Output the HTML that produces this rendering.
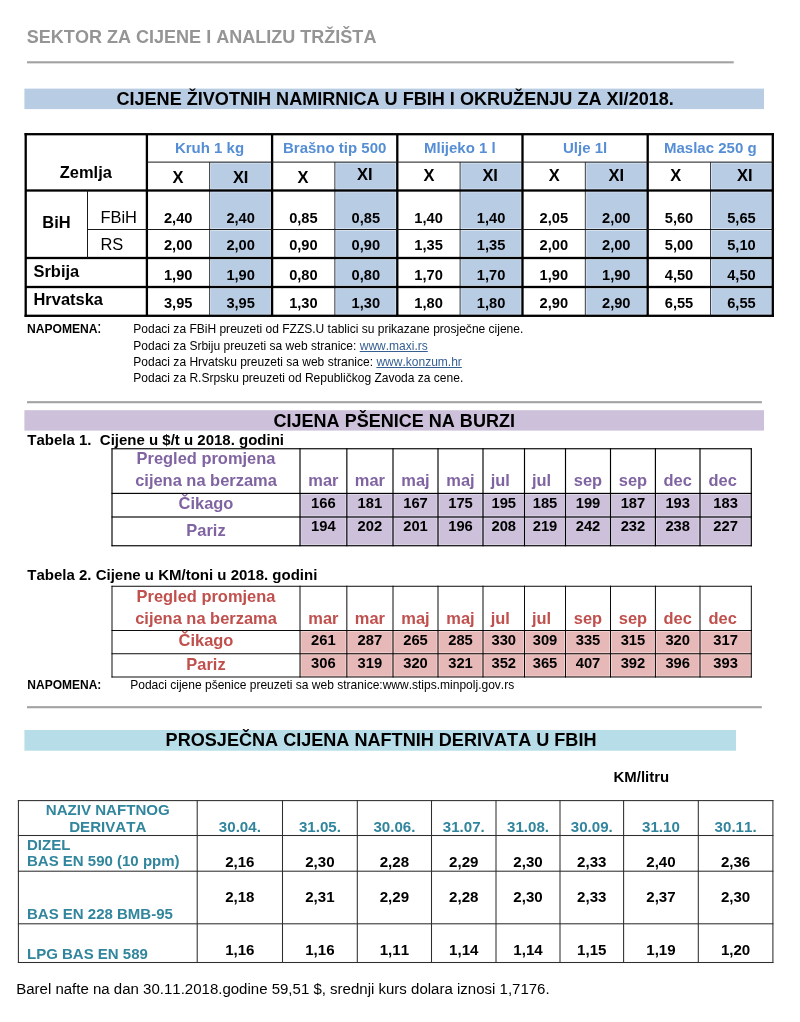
<!DOCTYPE html>
<html lang="bs">
<head>
<meta charset="utf-8">
<title>Sektor za cijene i analizu tržišta</title>
<style>
html,body{margin:0;padding:0;background:#fff;}
body{width:800px;height:1022px;position:relative;overflow:hidden;font-family:"Liberation Sans",sans-serif;font-kerning:none;}
#pg div{position:absolute;}
#pg .t{white-space:nowrap;}
.lk{color:#365f91;text-decoration:underline;}
</style>
</head>
<body>
<div id="pg">
<svg width="800" height="1022" viewBox="0 0 800 1022" style="position:absolute;left:0;top:0">
<rect x="27" y="61.25" width="706.7" height="2.1" fill="#a2a2a2"/>
<rect x="24.4" y="88.6" width="739.6" height="20.5" fill="#b8cce4"/>
<rect x="209.65" y="162.1" width="62.45" height="153.7" fill="#b8cce4"/>
<rect x="334.85" y="162.1" width="62.45" height="153.7" fill="#b8cce4"/>
<rect x="460.05" y="162.1" width="62.45" height="153.7" fill="#b8cce4"/>
<rect x="585.25" y="162.1" width="62.45" height="153.7" fill="#b8cce4"/>
<rect x="710.45" y="162.1" width="62.45" height="153.7" fill="#b8cce4"/>
<rect x="210.55" y="163.1" width="60.05" height="25.9" fill="none" stroke="#dbe6f3" stroke-width="0.8"/>
<rect x="210.55" y="192" width="60.05" height="36.5" fill="none" stroke="#dbe6f3" stroke-width="0.8"/>
<rect x="210.55" y="230.5" width="60.05" height="26" fill="none" stroke="#dbe6f3" stroke-width="0.8"/>
<rect x="210.55" y="259.5" width="60.05" height="26" fill="none" stroke="#dbe6f3" stroke-width="0.8"/>
<rect x="210.55" y="288.5" width="60.05" height="25.8" fill="none" stroke="#dbe6f3" stroke-width="0.8"/>
<rect x="335.75" y="163.1" width="60.05" height="25.9" fill="none" stroke="#dbe6f3" stroke-width="0.8"/>
<rect x="335.75" y="192" width="60.05" height="36.5" fill="none" stroke="#dbe6f3" stroke-width="0.8"/>
<rect x="335.75" y="230.5" width="60.05" height="26" fill="none" stroke="#dbe6f3" stroke-width="0.8"/>
<rect x="335.75" y="259.5" width="60.05" height="26" fill="none" stroke="#dbe6f3" stroke-width="0.8"/>
<rect x="335.75" y="288.5" width="60.05" height="25.8" fill="none" stroke="#dbe6f3" stroke-width="0.8"/>
<rect x="460.95" y="163.1" width="60.05" height="25.9" fill="none" stroke="#dbe6f3" stroke-width="0.8"/>
<rect x="460.95" y="192" width="60.05" height="36.5" fill="none" stroke="#dbe6f3" stroke-width="0.8"/>
<rect x="460.95" y="230.5" width="60.05" height="26" fill="none" stroke="#dbe6f3" stroke-width="0.8"/>
<rect x="460.95" y="259.5" width="60.05" height="26" fill="none" stroke="#dbe6f3" stroke-width="0.8"/>
<rect x="460.95" y="288.5" width="60.05" height="25.8" fill="none" stroke="#dbe6f3" stroke-width="0.8"/>
<rect x="586.15" y="163.1" width="60.05" height="25.9" fill="none" stroke="#dbe6f3" stroke-width="0.8"/>
<rect x="586.15" y="192" width="60.05" height="36.5" fill="none" stroke="#dbe6f3" stroke-width="0.8"/>
<rect x="586.15" y="230.5" width="60.05" height="26" fill="none" stroke="#dbe6f3" stroke-width="0.8"/>
<rect x="586.15" y="259.5" width="60.05" height="26" fill="none" stroke="#dbe6f3" stroke-width="0.8"/>
<rect x="586.15" y="288.5" width="60.05" height="25.8" fill="none" stroke="#dbe6f3" stroke-width="0.8"/>
<rect x="711.35" y="163.1" width="60.05" height="25.9" fill="none" stroke="#dbe6f3" stroke-width="0.8"/>
<rect x="711.35" y="192" width="60.05" height="36.5" fill="none" stroke="#dbe6f3" stroke-width="0.8"/>
<rect x="711.35" y="230.5" width="60.05" height="26" fill="none" stroke="#dbe6f3" stroke-width="0.8"/>
<rect x="711.35" y="259.5" width="60.05" height="26" fill="none" stroke="#dbe6f3" stroke-width="0.8"/>
<rect x="711.35" y="288.5" width="60.05" height="25.8" fill="none" stroke="#dbe6f3" stroke-width="0.8"/>
<rect x="24.55" y="133.05" width="749.4" height="2.3" fill="#000"/>
<rect x="24.55" y="314.65" width="749.4" height="2.3" fill="#000"/>
<rect x="24.55" y="133.05" width="2.3" height="183.9" fill="#000"/>
<rect x="771.65" y="133.05" width="2.3" height="183.9" fill="#000"/>
<rect x="145.75" y="134.2" width="2.3" height="181.6" fill="#000"/>
<rect x="209.25" y="162.1" width="0.8" height="153.7" fill="#1a1a1a"/>
<rect x="270.95" y="134.2" width="2.3" height="181.6" fill="#000"/>
<rect x="334.45" y="162.1" width="0.8" height="153.7" fill="#1a1a1a"/>
<rect x="396.15" y="134.2" width="2.3" height="181.6" fill="#000"/>
<rect x="459.65" y="162.1" width="0.8" height="153.7" fill="#1a1a1a"/>
<rect x="521.35" y="134.2" width="2.3" height="181.6" fill="#000"/>
<rect x="584.85" y="162.1" width="0.8" height="153.7" fill="#1a1a1a"/>
<rect x="646.55" y="134.2" width="2.3" height="181.6" fill="#000"/>
<rect x="710.05" y="162.1" width="0.8" height="153.7" fill="#1a1a1a"/>
<rect x="146.9" y="161.6" width="625.9" height="1" fill="#1a1a1a"/>
<rect x="25.7" y="189.35" width="747.1" height="2.3" fill="#000"/>
<rect x="87.5" y="229" width="685.3" height="1" fill="#1a1a1a"/>
<rect x="25.7" y="256.85" width="747.1" height="2.3" fill="#000"/>
<rect x="25.7" y="285.85" width="747.1" height="2.3" fill="#000"/>
<rect x="87" y="190.5" width="1" height="67.5" fill="#1a1a1a"/>
<rect x="27" y="401.15" width="734.9" height="2.1" fill="#a2a2a2"/>
<rect x="24.4" y="410.2" width="739.6" height="20.4" fill="#ccc0da"/>
<rect x="300" y="493.4" width="451.3" height="52.35" fill="#ccc0da"/>
<rect x="301.05" y="494.45" width="44.75" height="21.5" fill="none" stroke="#e0d9ea" stroke-width="0.8"/>
<rect x="301.05" y="518.05" width="44.75" height="26.65" fill="none" stroke="#e0d9ea" stroke-width="0.8"/>
<rect x="347.9" y="494.45" width="44.05" height="21.5" fill="none" stroke="#e0d9ea" stroke-width="0.8"/>
<rect x="347.9" y="518.05" width="44.05" height="26.65" fill="none" stroke="#e0d9ea" stroke-width="0.8"/>
<rect x="394.05" y="494.45" width="42.9" height="21.5" fill="none" stroke="#e0d9ea" stroke-width="0.8"/>
<rect x="394.05" y="518.05" width="42.9" height="26.65" fill="none" stroke="#e0d9ea" stroke-width="0.8"/>
<rect x="439.05" y="494.45" width="42.9" height="21.5" fill="none" stroke="#e0d9ea" stroke-width="0.8"/>
<rect x="439.05" y="518.05" width="42.9" height="26.65" fill="none" stroke="#e0d9ea" stroke-width="0.8"/>
<rect x="484.05" y="494.45" width="39.4" height="21.5" fill="none" stroke="#e0d9ea" stroke-width="0.8"/>
<rect x="484.05" y="518.05" width="39.4" height="26.65" fill="none" stroke="#e0d9ea" stroke-width="0.8"/>
<rect x="525.55" y="494.45" width="38.9" height="21.5" fill="none" stroke="#e0d9ea" stroke-width="0.8"/>
<rect x="525.55" y="518.05" width="38.9" height="26.65" fill="none" stroke="#e0d9ea" stroke-width="0.8"/>
<rect x="566.55" y="494.45" width="42.9" height="21.5" fill="none" stroke="#e0d9ea" stroke-width="0.8"/>
<rect x="566.55" y="518.05" width="42.9" height="26.65" fill="none" stroke="#e0d9ea" stroke-width="0.8"/>
<rect x="611.55" y="494.45" width="42.8" height="21.5" fill="none" stroke="#e0d9ea" stroke-width="0.8"/>
<rect x="611.55" y="518.05" width="42.8" height="26.65" fill="none" stroke="#e0d9ea" stroke-width="0.8"/>
<rect x="656.45" y="494.45" width="42.5" height="21.5" fill="none" stroke="#e0d9ea" stroke-width="0.8"/>
<rect x="656.45" y="518.05" width="42.5" height="26.65" fill="none" stroke="#e0d9ea" stroke-width="0.8"/>
<rect x="701.05" y="494.45" width="49.2" height="21.5" fill="none" stroke="#e0d9ea" stroke-width="0.8"/>
<rect x="701.05" y="518.05" width="49.2" height="26.65" fill="none" stroke="#e0d9ea" stroke-width="0.8"/>
<rect x="111.425" y="448.25" width="1.15" height="98" fill="#000"/>
<rect x="299.425" y="448.25" width="1.15" height="98" fill="#000"/>
<rect x="346.275" y="448.25" width="1.15" height="98" fill="#000"/>
<rect x="392.425" y="448.25" width="1.15" height="98" fill="#000"/>
<rect x="437.425" y="448.25" width="1.15" height="98" fill="#000"/>
<rect x="482.425" y="448.25" width="1.15" height="98" fill="#000"/>
<rect x="523.925" y="448.25" width="1.15" height="98" fill="#000"/>
<rect x="564.925" y="448.25" width="1.15" height="98" fill="#000"/>
<rect x="609.925" y="448.25" width="1.15" height="98" fill="#000"/>
<rect x="654.825" y="448.25" width="1.15" height="98" fill="#000"/>
<rect x="699.425" y="448.25" width="1.15" height="98" fill="#000"/>
<rect x="750.725" y="448.25" width="1.15" height="98" fill="#000"/>
<rect x="111.5" y="448.175" width="640.3" height="1.15" fill="#000"/>
<rect x="111.5" y="492.825" width="640.3" height="1.15" fill="#000"/>
<rect x="111.5" y="516.425" width="640.3" height="1.15" fill="#000"/>
<rect x="111.5" y="545.175" width="640.3" height="1.15" fill="#000"/>
<rect x="300" y="630.5" width="451.3" height="46.5" fill="#e6b8b7"/>
<rect x="301.05" y="631.55" width="44.75" height="21.15" fill="none" stroke="#f1d6d5" stroke-width="0.8"/>
<rect x="301.05" y="654.8" width="44.75" height="21.15" fill="none" stroke="#f1d6d5" stroke-width="0.8"/>
<rect x="347.9" y="631.55" width="44.05" height="21.15" fill="none" stroke="#f1d6d5" stroke-width="0.8"/>
<rect x="347.9" y="654.8" width="44.05" height="21.15" fill="none" stroke="#f1d6d5" stroke-width="0.8"/>
<rect x="394.05" y="631.55" width="42.9" height="21.15" fill="none" stroke="#f1d6d5" stroke-width="0.8"/>
<rect x="394.05" y="654.8" width="42.9" height="21.15" fill="none" stroke="#f1d6d5" stroke-width="0.8"/>
<rect x="439.05" y="631.55" width="42.9" height="21.15" fill="none" stroke="#f1d6d5" stroke-width="0.8"/>
<rect x="439.05" y="654.8" width="42.9" height="21.15" fill="none" stroke="#f1d6d5" stroke-width="0.8"/>
<rect x="484.05" y="631.55" width="39.4" height="21.15" fill="none" stroke="#f1d6d5" stroke-width="0.8"/>
<rect x="484.05" y="654.8" width="39.4" height="21.15" fill="none" stroke="#f1d6d5" stroke-width="0.8"/>
<rect x="525.55" y="631.55" width="38.9" height="21.15" fill="none" stroke="#f1d6d5" stroke-width="0.8"/>
<rect x="525.55" y="654.8" width="38.9" height="21.15" fill="none" stroke="#f1d6d5" stroke-width="0.8"/>
<rect x="566.55" y="631.55" width="42.9" height="21.15" fill="none" stroke="#f1d6d5" stroke-width="0.8"/>
<rect x="566.55" y="654.8" width="42.9" height="21.15" fill="none" stroke="#f1d6d5" stroke-width="0.8"/>
<rect x="611.55" y="631.55" width="42.8" height="21.15" fill="none" stroke="#f1d6d5" stroke-width="0.8"/>
<rect x="611.55" y="654.8" width="42.8" height="21.15" fill="none" stroke="#f1d6d5" stroke-width="0.8"/>
<rect x="656.45" y="631.55" width="42.5" height="21.15" fill="none" stroke="#f1d6d5" stroke-width="0.8"/>
<rect x="656.45" y="654.8" width="42.5" height="21.15" fill="none" stroke="#f1d6d5" stroke-width="0.8"/>
<rect x="701.05" y="631.55" width="49.2" height="21.15" fill="none" stroke="#f1d6d5" stroke-width="0.8"/>
<rect x="701.05" y="654.8" width="49.2" height="21.15" fill="none" stroke="#f1d6d5" stroke-width="0.8"/>
<rect x="111.525" y="585.75" width="0.95" height="91.75" fill="#000"/>
<rect x="299.525" y="585.75" width="0.95" height="91.75" fill="#000"/>
<rect x="346.375" y="585.75" width="0.95" height="91.75" fill="#000"/>
<rect x="392.525" y="585.75" width="0.95" height="91.75" fill="#000"/>
<rect x="437.525" y="585.75" width="0.95" height="91.75" fill="#000"/>
<rect x="482.525" y="585.75" width="0.95" height="91.75" fill="#000"/>
<rect x="524.025" y="585.75" width="0.95" height="91.75" fill="#000"/>
<rect x="565.025" y="585.75" width="0.95" height="91.75" fill="#000"/>
<rect x="610.025" y="585.75" width="0.95" height="91.75" fill="#000"/>
<rect x="654.925" y="585.75" width="0.95" height="91.75" fill="#000"/>
<rect x="699.525" y="585.75" width="0.95" height="91.75" fill="#000"/>
<rect x="750.825" y="585.75" width="0.95" height="91.75" fill="#000"/>
<rect x="111.5" y="585.775" width="640.3" height="0.95" fill="#000"/>
<rect x="111.5" y="630.025" width="640.3" height="0.95" fill="#000"/>
<rect x="111.5" y="653.275" width="640.3" height="0.95" fill="#000"/>
<rect x="111.5" y="676.525" width="640.3" height="0.95" fill="#000"/>
<rect x="27" y="706.15" width="734.8" height="2.1" fill="#a2a2a2"/>
<rect x="24.4" y="730" width="711.6" height="20.7" fill="#b7dee8"/>
<rect x="17.875" y="800.1" width="1.05" height="162.9" fill="#2e2e2e"/>
<rect x="196.675" y="800.1" width="1.05" height="162.9" fill="#2e2e2e"/>
<rect x="281.975" y="800.1" width="1.05" height="162.9" fill="#2e2e2e"/>
<rect x="356.775" y="800.1" width="1.05" height="162.9" fill="#2e2e2e"/>
<rect x="430.975" y="800.1" width="1.05" height="162.9" fill="#2e2e2e"/>
<rect x="495.475" y="800.1" width="1.05" height="162.9" fill="#2e2e2e"/>
<rect x="559.475" y="800.1" width="1.05" height="162.9" fill="#2e2e2e"/>
<rect x="623.075" y="800.1" width="1.05" height="162.9" fill="#2e2e2e"/>
<rect x="697.775" y="800.1" width="1.05" height="162.9" fill="#2e2e2e"/>
<rect x="772.375" y="800.1" width="1.05" height="162.9" fill="#2e2e2e"/>
<rect x="17.9" y="800.075" width="755.5" height="1.05" fill="#2e2e2e"/>
<rect x="17.9" y="834.975" width="755.5" height="1.05" fill="#2e2e2e"/>
<rect x="17.9" y="870.675" width="755.5" height="1.05" fill="#2e2e2e"/>
<rect x="17.9" y="923.275" width="755.5" height="1.05" fill="#2e2e2e"/>
<rect x="17.9" y="961.975" width="755.5" height="1.05" fill="#2e2e2e"/>
</svg>
<div class="t" style="top:28px;font-size:18.05px;line-height:18.05px;color:#959595;font-weight:bold;left:26.8px;">SEKTOR ZA CIJENE I ANALIZU TRŽIŠTA</div>
<div class="t" style="top:90px;font-size:18.08px;line-height:18.08px;color:#000;font-weight:bold;left:116.4px;">CIJENE ŽIVOTNIH NAMIRNICA U FBIH I OKRUŽENJU ZA XI/2018.</div>
<div class="t" style="top:140px;font-size:15px;line-height:15px;color:#558ed5;font-weight:bold;left:147.5px;width:124px;text-align:center;">Kruh 1 kg</div>
<div class="t" style="top:169px;font-size:16.45px;line-height:16.45px;color:#000;font-weight:bold;left:147.9px;width:60px;text-align:center;">X</div>
<div class="t" style="top:169px;font-size:16.45px;line-height:16.45px;color:#000;font-weight:bold;left:210.65px;width:60px;text-align:center;">XI</div>
<div class="t" style="top:140px;font-size:15px;line-height:15px;color:#558ed5;font-weight:bold;left:272.7px;width:124px;text-align:center;">Brašno tip 500</div>
<div class="t" style="top:169px;font-size:16.45px;line-height:16.45px;color:#000;font-weight:bold;left:273.1px;width:60px;text-align:center;">X</div>
<div class="t" style="top:166px;font-size:16.45px;line-height:16.45px;color:#000;font-weight:bold;left:334.75px;width:60px;text-align:center;">XI</div>
<div class="t" style="top:140px;font-size:15px;line-height:15px;color:#558ed5;font-weight:bold;left:397.9px;width:124px;text-align:center;">Mlijeko 1 l</div>
<div class="t" style="top:167px;font-size:16.45px;line-height:16.45px;color:#000;font-weight:bold;left:399.05px;width:60px;text-align:center;">X</div>
<div class="t" style="top:167px;font-size:16.45px;line-height:16.45px;color:#000;font-weight:bold;left:460.15px;width:60px;text-align:center;">XI</div>
<div class="t" style="top:140px;font-size:15px;line-height:15px;color:#558ed5;font-weight:bold;left:523.1px;width:124px;text-align:center;">Ulje 1l</div>
<div class="t" style="top:167px;font-size:16.45px;line-height:16.45px;color:#000;font-weight:bold;left:524.25px;width:60px;text-align:center;">X</div>
<div class="t" style="top:167px;font-size:16.45px;line-height:16.45px;color:#000;font-weight:bold;left:586.25px;width:60px;text-align:center;">XI</div>
<div class="t" style="top:140px;font-size:15px;line-height:15px;color:#558ed5;font-weight:bold;left:648.3px;width:124px;text-align:center;">Maslac 250 g</div>
<div class="t" style="top:167px;font-size:16.45px;line-height:16.45px;color:#000;font-weight:bold;left:645.7px;width:60px;text-align:center;">X</div>
<div class="t" style="top:167px;font-size:16.45px;line-height:16.45px;color:#000;font-weight:bold;left:714.7px;width:60px;text-align:center;">XI</div>
<div class="t" style="top:164px;font-size:16.45px;line-height:16.45px;color:#000;font-weight:bold;left:59.8px;">Zemlja</div>
<div class="t" style="top:214px;font-size:16.45px;line-height:16.45px;color:#000;font-weight:bold;left:42.3px;">BiH</div>
<div class="t" style="top:209px;font-size:16.45px;line-height:16.45px;color:#000;left:100.4px;">FBiH</div>
<div class="t" style="top:236px;font-size:16.45px;line-height:16.45px;color:#000;left:100.4px;">RS</div>
<div class="t" style="top:263px;font-size:16.45px;line-height:16.45px;color:#000;font-weight:bold;left:33.5px;">Srbija</div>
<div class="t" style="top:291px;font-size:16.45px;line-height:16.45px;color:#000;font-weight:bold;left:33.5px;">Hrvatska</div>
<div class="t" style="top:211px;font-size:14.65px;line-height:14.65px;color:#000;font-weight:bold;left:148.2px;width:60px;text-align:center;">2,40</div>
<div class="t" style="top:211px;font-size:14.65px;line-height:14.65px;color:#000;font-weight:bold;left:210.65px;width:60px;text-align:center;">2,40</div>
<div class="t" style="top:211px;font-size:14.65px;line-height:14.65px;color:#000;font-weight:bold;left:273.4px;width:60px;text-align:center;">0,85</div>
<div class="t" style="top:211px;font-size:14.65px;line-height:14.65px;color:#000;font-weight:bold;left:335.85px;width:60px;text-align:center;">0,85</div>
<div class="t" style="top:211px;font-size:14.65px;line-height:14.65px;color:#000;font-weight:bold;left:398.6px;width:60px;text-align:center;">1,40</div>
<div class="t" style="top:211px;font-size:14.65px;line-height:14.65px;color:#000;font-weight:bold;left:461.05px;width:60px;text-align:center;">1,40</div>
<div class="t" style="top:211px;font-size:14.65px;line-height:14.65px;color:#000;font-weight:bold;left:523.8px;width:60px;text-align:center;">2,05</div>
<div class="t" style="top:211px;font-size:14.65px;line-height:14.65px;color:#000;font-weight:bold;left:586.25px;width:60px;text-align:center;">2,00</div>
<div class="t" style="top:211px;font-size:14.65px;line-height:14.65px;color:#000;font-weight:bold;left:649px;width:60px;text-align:center;">5,60</div>
<div class="t" style="top:211px;font-size:14.65px;line-height:14.65px;color:#000;font-weight:bold;left:711.45px;width:60px;text-align:center;">5,65</div>
<div class="t" style="top:238px;font-size:14.65px;line-height:14.65px;color:#000;font-weight:bold;left:148.2px;width:60px;text-align:center;">2,00</div>
<div class="t" style="top:238px;font-size:14.65px;line-height:14.65px;color:#000;font-weight:bold;left:210.65px;width:60px;text-align:center;">2,00</div>
<div class="t" style="top:238px;font-size:14.65px;line-height:14.65px;color:#000;font-weight:bold;left:273.4px;width:60px;text-align:center;">0,90</div>
<div class="t" style="top:238px;font-size:14.65px;line-height:14.65px;color:#000;font-weight:bold;left:335.85px;width:60px;text-align:center;">0,90</div>
<div class="t" style="top:238px;font-size:14.65px;line-height:14.65px;color:#000;font-weight:bold;left:398.6px;width:60px;text-align:center;">1,35</div>
<div class="t" style="top:238px;font-size:14.65px;line-height:14.65px;color:#000;font-weight:bold;left:461.05px;width:60px;text-align:center;">1,35</div>
<div class="t" style="top:238px;font-size:14.65px;line-height:14.65px;color:#000;font-weight:bold;left:523.8px;width:60px;text-align:center;">2,00</div>
<div class="t" style="top:238px;font-size:14.65px;line-height:14.65px;color:#000;font-weight:bold;left:586.25px;width:60px;text-align:center;">2,00</div>
<div class="t" style="top:238px;font-size:14.65px;line-height:14.65px;color:#000;font-weight:bold;left:649px;width:60px;text-align:center;">5,00</div>
<div class="t" style="top:238px;font-size:14.65px;line-height:14.65px;color:#000;font-weight:bold;left:711.45px;width:60px;text-align:center;">5,10</div>
<div class="t" style="top:268px;font-size:14.65px;line-height:14.65px;color:#000;font-weight:bold;left:148.2px;width:60px;text-align:center;">1,90</div>
<div class="t" style="top:268px;font-size:14.65px;line-height:14.65px;color:#000;font-weight:bold;left:210.65px;width:60px;text-align:center;">1,90</div>
<div class="t" style="top:268px;font-size:14.65px;line-height:14.65px;color:#000;font-weight:bold;left:273.4px;width:60px;text-align:center;">0,80</div>
<div class="t" style="top:268px;font-size:14.65px;line-height:14.65px;color:#000;font-weight:bold;left:335.85px;width:60px;text-align:center;">0,80</div>
<div class="t" style="top:268px;font-size:14.65px;line-height:14.65px;color:#000;font-weight:bold;left:398.6px;width:60px;text-align:center;">1,70</div>
<div class="t" style="top:268px;font-size:14.65px;line-height:14.65px;color:#000;font-weight:bold;left:461.05px;width:60px;text-align:center;">1,70</div>
<div class="t" style="top:268px;font-size:14.65px;line-height:14.65px;color:#000;font-weight:bold;left:523.8px;width:60px;text-align:center;">1,90</div>
<div class="t" style="top:268px;font-size:14.65px;line-height:14.65px;color:#000;font-weight:bold;left:586.25px;width:60px;text-align:center;">1,90</div>
<div class="t" style="top:268px;font-size:14.65px;line-height:14.65px;color:#000;font-weight:bold;left:649px;width:60px;text-align:center;">4,50</div>
<div class="t" style="top:268px;font-size:14.65px;line-height:14.65px;color:#000;font-weight:bold;left:711.45px;width:60px;text-align:center;">4,50</div>
<div class="t" style="top:296px;font-size:14.65px;line-height:14.65px;color:#000;font-weight:bold;left:148.2px;width:60px;text-align:center;">3,95</div>
<div class="t" style="top:296px;font-size:14.65px;line-height:14.65px;color:#000;font-weight:bold;left:210.65px;width:60px;text-align:center;">3,95</div>
<div class="t" style="top:296px;font-size:14.65px;line-height:14.65px;color:#000;font-weight:bold;left:273.4px;width:60px;text-align:center;">1,30</div>
<div class="t" style="top:296px;font-size:14.65px;line-height:14.65px;color:#000;font-weight:bold;left:335.85px;width:60px;text-align:center;">1,30</div>
<div class="t" style="top:296px;font-size:14.65px;line-height:14.65px;color:#000;font-weight:bold;left:398.6px;width:60px;text-align:center;">1,80</div>
<div class="t" style="top:296px;font-size:14.65px;line-height:14.65px;color:#000;font-weight:bold;left:461.05px;width:60px;text-align:center;">1,80</div>
<div class="t" style="top:296px;font-size:14.65px;line-height:14.65px;color:#000;font-weight:bold;left:523.8px;width:60px;text-align:center;">2,90</div>
<div class="t" style="top:296px;font-size:14.65px;line-height:14.65px;color:#000;font-weight:bold;left:586.25px;width:60px;text-align:center;">2,90</div>
<div class="t" style="top:296px;font-size:14.65px;line-height:14.65px;color:#000;font-weight:bold;left:649px;width:60px;text-align:center;">6,55</div>
<div class="t" style="top:296px;font-size:14.65px;line-height:14.65px;color:#000;font-weight:bold;left:711.45px;width:60px;text-align:center;">6,55</div>
<div class="t" style="top:323px;font-size:12.1px;line-height:12.1px;color:#000;font-weight:bold;left:27px;">NAPOMENA</div>
<div class="t" style="top:319px;font-size:16.45px;line-height:16.45px;color:#000;left:96.9px;">:</div>
<div class="t" style="top:323px;font-size:12.02px;line-height:12.02px;color:#000;left:133.3px;">Podaci za FBiH preuzeti od FZZS.U tablici su prikazane prosječne cijene.</div>
<div class="t" style="top:340px;font-size:12.02px;line-height:12.02px;color:#000;left:133.3px;">Podaci za Srbiju preuzeti sa web stranice: <span class="lk">www.maxi.rs</span></div>
<div class="t" style="top:356px;font-size:12.02px;line-height:12.02px;color:#000;left:133.3px;">Podaci za Hrvatsku preuzeti sa web stranice: <span class="lk">www.konzum.hr</span></div>
<div class="t" style="top:372px;font-size:12.02px;line-height:12.02px;color:#000;left:133.3px;">Podaci za R.Srpsku preuzeti od Republičkog Zavoda za cene.</div>
<div class="t" style="top:412px;font-size:18.05px;line-height:18.05px;color:#000;font-weight:bold;left:273.5px;">CIJENA PŠENICE NA BURZI</div>
<div class="t" style="top:432px;font-size:15px;line-height:15px;color:#000;font-weight:bold;left:27.3px;">Tabela 1.&nbsp; Cijene u $/t u 2018. godini</div>
<div class="t" style="top:450px;font-size:16.45px;line-height:16.45px;color:#8064a2;font-weight:bold;left:113px;width:186px;text-align:center;">Pregled promjena</div>
<div class="t" style="top:472px;font-size:16.45px;line-height:16.45px;color:#8064a2;font-weight:bold;left:113px;width:186px;text-align:center;">cijena na berzama</div>
<div class="t" style="top:495px;font-size:16.45px;line-height:16.45px;color:#8064a2;font-weight:bold;left:113px;width:186px;text-align:center;">Čikago</div>
<div class="t" style="top:522px;font-size:16.45px;line-height:16.45px;color:#8064a2;font-weight:bold;left:113px;width:186px;text-align:center;">Pariz</div>
<div class="t" style="top:472px;font-size:16.45px;line-height:16.45px;color:#8064a2;font-weight:bold;left:293.425px;width:60px;text-align:center;">mar</div>
<div class="t" style="top:496px;font-size:14.75px;line-height:14.75px;color:#000;font-weight:bold;left:293.425px;width:60px;text-align:center;">166</div>
<div class="t" style="top:519px;font-size:14.75px;line-height:14.75px;color:#000;font-weight:bold;left:293.425px;width:60px;text-align:center;">194</div>
<div class="t" style="top:472px;font-size:16.45px;line-height:16.45px;color:#8064a2;font-weight:bold;left:339.925px;width:60px;text-align:center;">mar</div>
<div class="t" style="top:496px;font-size:14.75px;line-height:14.75px;color:#000;font-weight:bold;left:339.925px;width:60px;text-align:center;">181</div>
<div class="t" style="top:519px;font-size:14.75px;line-height:14.75px;color:#000;font-weight:bold;left:339.925px;width:60px;text-align:center;">202</div>
<div class="t" style="top:472px;font-size:16.45px;line-height:16.45px;color:#8064a2;font-weight:bold;left:385.5px;width:60px;text-align:center;">maj</div>
<div class="t" style="top:496px;font-size:14.75px;line-height:14.75px;color:#000;font-weight:bold;left:385.5px;width:60px;text-align:center;">167</div>
<div class="t" style="top:519px;font-size:14.75px;line-height:14.75px;color:#000;font-weight:bold;left:385.5px;width:60px;text-align:center;">201</div>
<div class="t" style="top:472px;font-size:16.45px;line-height:16.45px;color:#8064a2;font-weight:bold;left:430.5px;width:60px;text-align:center;">maj</div>
<div class="t" style="top:496px;font-size:14.75px;line-height:14.75px;color:#000;font-weight:bold;left:430.5px;width:60px;text-align:center;">175</div>
<div class="t" style="top:519px;font-size:14.75px;line-height:14.75px;color:#000;font-weight:bold;left:430.5px;width:60px;text-align:center;">196</div>
<div class="t" style="top:472px;font-size:16.45px;line-height:16.45px;color:#8064a2;font-weight:bold;left:470.25px;width:60px;text-align:center;">jul</div>
<div class="t" style="top:496px;font-size:14.75px;line-height:14.75px;color:#000;font-weight:bold;left:473.75px;width:60px;text-align:center;">195</div>
<div class="t" style="top:519px;font-size:14.75px;line-height:14.75px;color:#000;font-weight:bold;left:473.75px;width:60px;text-align:center;">208</div>
<div class="t" style="top:472px;font-size:16.45px;line-height:16.45px;color:#8064a2;font-weight:bold;left:511.5px;width:60px;text-align:center;">jul</div>
<div class="t" style="top:496px;font-size:14.75px;line-height:14.75px;color:#000;font-weight:bold;left:515px;width:60px;text-align:center;">185</div>
<div class="t" style="top:519px;font-size:14.75px;line-height:14.75px;color:#000;font-weight:bold;left:515px;width:60px;text-align:center;">219</div>
<div class="t" style="top:472px;font-size:16.45px;line-height:16.45px;color:#8064a2;font-weight:bold;left:558px;width:60px;text-align:center;">sep</div>
<div class="t" style="top:496px;font-size:14.75px;line-height:14.75px;color:#000;font-weight:bold;left:558px;width:60px;text-align:center;">199</div>
<div class="t" style="top:519px;font-size:14.75px;line-height:14.75px;color:#000;font-weight:bold;left:558px;width:60px;text-align:center;">242</div>
<div class="t" style="top:472px;font-size:16.45px;line-height:16.45px;color:#8064a2;font-weight:bold;left:602.95px;width:60px;text-align:center;">sep</div>
<div class="t" style="top:496px;font-size:14.75px;line-height:14.75px;color:#000;font-weight:bold;left:602.95px;width:60px;text-align:center;">187</div>
<div class="t" style="top:519px;font-size:14.75px;line-height:14.75px;color:#000;font-weight:bold;left:602.95px;width:60px;text-align:center;">232</div>
<div class="t" style="top:472px;font-size:16.45px;line-height:16.45px;color:#8064a2;font-weight:bold;left:647.7px;width:60px;text-align:center;">dec</div>
<div class="t" style="top:496px;font-size:14.75px;line-height:14.75px;color:#000;font-weight:bold;left:647.7px;width:60px;text-align:center;">193</div>
<div class="t" style="top:519px;font-size:14.75px;line-height:14.75px;color:#000;font-weight:bold;left:647.7px;width:60px;text-align:center;">238</div>
<div class="t" style="top:472px;font-size:16.45px;line-height:16.45px;color:#8064a2;font-weight:bold;left:692.65px;width:60px;text-align:center;">dec</div>
<div class="t" style="top:496px;font-size:14.75px;line-height:14.75px;color:#000;font-weight:bold;left:695.65px;width:60px;text-align:center;">183</div>
<div class="t" style="top:519px;font-size:14.75px;line-height:14.75px;color:#000;font-weight:bold;left:695.65px;width:60px;text-align:center;">227</div>
<div class="t" style="top:567px;font-size:15px;line-height:15px;color:#000;font-weight:bold;left:27.3px;">Tabela 2. Cijene u KM/toni u 2018. godini</div>
<div class="t" style="top:588px;font-size:16.45px;line-height:16.45px;color:#c0504d;font-weight:bold;left:113px;width:186px;text-align:center;">Pregled promjena</div>
<div class="t" style="top:610px;font-size:16.45px;line-height:16.45px;color:#c0504d;font-weight:bold;left:113px;width:186px;text-align:center;">cijena na berzama</div>
<div class="t" style="top:632px;font-size:16.45px;line-height:16.45px;color:#c0504d;font-weight:bold;left:113px;width:186px;text-align:center;">Čikago</div>
<div class="t" style="top:656px;font-size:16.45px;line-height:16.45px;color:#c0504d;font-weight:bold;left:113px;width:186px;text-align:center;">Pariz</div>
<div class="t" style="top:610px;font-size:16.45px;line-height:16.45px;color:#c0504d;font-weight:bold;left:293.425px;width:60px;text-align:center;">mar</div>
<div class="t" style="top:633px;font-size:14.75px;line-height:14.75px;color:#000;font-weight:bold;left:293.425px;width:60px;text-align:center;">261</div>
<div class="t" style="top:656px;font-size:14.75px;line-height:14.75px;color:#000;font-weight:bold;left:293.425px;width:60px;text-align:center;">306</div>
<div class="t" style="top:610px;font-size:16.45px;line-height:16.45px;color:#c0504d;font-weight:bold;left:339.925px;width:60px;text-align:center;">mar</div>
<div class="t" style="top:633px;font-size:14.75px;line-height:14.75px;color:#000;font-weight:bold;left:339.925px;width:60px;text-align:center;">287</div>
<div class="t" style="top:656px;font-size:14.75px;line-height:14.75px;color:#000;font-weight:bold;left:339.925px;width:60px;text-align:center;">319</div>
<div class="t" style="top:610px;font-size:16.45px;line-height:16.45px;color:#c0504d;font-weight:bold;left:385.5px;width:60px;text-align:center;">maj</div>
<div class="t" style="top:633px;font-size:14.75px;line-height:14.75px;color:#000;font-weight:bold;left:385.5px;width:60px;text-align:center;">265</div>
<div class="t" style="top:656px;font-size:14.75px;line-height:14.75px;color:#000;font-weight:bold;left:385.5px;width:60px;text-align:center;">320</div>
<div class="t" style="top:610px;font-size:16.45px;line-height:16.45px;color:#c0504d;font-weight:bold;left:430.5px;width:60px;text-align:center;">maj</div>
<div class="t" style="top:633px;font-size:14.75px;line-height:14.75px;color:#000;font-weight:bold;left:430.5px;width:60px;text-align:center;">285</div>
<div class="t" style="top:656px;font-size:14.75px;line-height:14.75px;color:#000;font-weight:bold;left:430.5px;width:60px;text-align:center;">321</div>
<div class="t" style="top:610px;font-size:16.45px;line-height:16.45px;color:#c0504d;font-weight:bold;left:470.25px;width:60px;text-align:center;">jul</div>
<div class="t" style="top:633px;font-size:14.75px;line-height:14.75px;color:#000;font-weight:bold;left:473.75px;width:60px;text-align:center;">330</div>
<div class="t" style="top:656px;font-size:14.75px;line-height:14.75px;color:#000;font-weight:bold;left:473.75px;width:60px;text-align:center;">352</div>
<div class="t" style="top:610px;font-size:16.45px;line-height:16.45px;color:#c0504d;font-weight:bold;left:511.5px;width:60px;text-align:center;">jul</div>
<div class="t" style="top:633px;font-size:14.75px;line-height:14.75px;color:#000;font-weight:bold;left:515px;width:60px;text-align:center;">309</div>
<div class="t" style="top:656px;font-size:14.75px;line-height:14.75px;color:#000;font-weight:bold;left:515px;width:60px;text-align:center;">365</div>
<div class="t" style="top:610px;font-size:16.45px;line-height:16.45px;color:#c0504d;font-weight:bold;left:558px;width:60px;text-align:center;">sep</div>
<div class="t" style="top:633px;font-size:14.75px;line-height:14.75px;color:#000;font-weight:bold;left:558px;width:60px;text-align:center;">335</div>
<div class="t" style="top:656px;font-size:14.75px;line-height:14.75px;color:#000;font-weight:bold;left:558px;width:60px;text-align:center;">407</div>
<div class="t" style="top:610px;font-size:16.45px;line-height:16.45px;color:#c0504d;font-weight:bold;left:602.95px;width:60px;text-align:center;">sep</div>
<div class="t" style="top:633px;font-size:14.75px;line-height:14.75px;color:#000;font-weight:bold;left:602.95px;width:60px;text-align:center;">315</div>
<div class="t" style="top:656px;font-size:14.75px;line-height:14.75px;color:#000;font-weight:bold;left:602.95px;width:60px;text-align:center;">392</div>
<div class="t" style="top:610px;font-size:16.45px;line-height:16.45px;color:#c0504d;font-weight:bold;left:647.7px;width:60px;text-align:center;">dec</div>
<div class="t" style="top:633px;font-size:14.75px;line-height:14.75px;color:#000;font-weight:bold;left:647.7px;width:60px;text-align:center;">320</div>
<div class="t" style="top:656px;font-size:14.75px;line-height:14.75px;color:#000;font-weight:bold;left:647.7px;width:60px;text-align:center;">396</div>
<div class="t" style="top:610px;font-size:16.45px;line-height:16.45px;color:#c0504d;font-weight:bold;left:692.65px;width:60px;text-align:center;">dec</div>
<div class="t" style="top:633px;font-size:14.75px;line-height:14.75px;color:#000;font-weight:bold;left:695.65px;width:60px;text-align:center;">317</div>
<div class="t" style="top:656px;font-size:14.75px;line-height:14.75px;color:#000;font-weight:bold;left:695.65px;width:60px;text-align:center;">393</div>
<div class="t" style="top:679px;font-size:12px;line-height:12px;color:#000;font-weight:bold;left:27.3px;">NAPOMENA:</div>
<div class="t" style="top:679px;font-size:12.03px;line-height:12.03px;color:#000;left:130.2px;">Podaci cijene pšenice preuzeti sa web stranice:www.stips.minpolj.gov.rs</div>
<div class="t" style="top:731px;font-size:18.08px;line-height:18.08px;color:#000;font-weight:bold;left:165.6px;">PROSJEČNA CIJENA NAFTNIH DERIVATA U FBIH</div>
<div class="t" style="top:770px;font-size:14.93px;line-height:14.93px;color:#000;font-weight:bold;left:613.6px;">KM/litru</div>
<div class="t" style="top:802px;font-size:15.1px;line-height:15.1px;color:#31859c;font-weight:bold;left:22.8px;width:170px;text-align:center;">NAZIV NAFTNOG</div>
<div class="t" style="top:819px;font-size:15.1px;line-height:15.1px;color:#31859c;font-weight:bold;left:22.8px;width:170px;text-align:center;">DERIVATA</div>
<div class="t" style="top:837px;font-size:15px;line-height:15px;color:#31859c;font-weight:bold;left:27px;">DIZEL</div>
<div class="t" style="top:853px;font-size:15px;line-height:15px;color:#31859c;font-weight:bold;left:27px;">BAS EN 590 (10 ppm)</div>
<div class="t" style="top:906px;font-size:15px;line-height:15px;color:#31859c;font-weight:bold;left:27px;">BAS EN 228 BMB-95</div>
<div class="t" style="top:946px;font-size:15px;line-height:15px;color:#31859c;font-weight:bold;left:27px;">LPG BAS EN 589</div>
<div class="t" style="top:819px;font-size:15.1px;line-height:15.1px;color:#31859c;font-weight:bold;left:207.85px;width:64px;text-align:center;">30.04.</div>
<div class="t" style="top:854px;font-size:15.1px;line-height:15.1px;color:#000;font-weight:bold;left:207.85px;width:64px;text-align:center;">2,16</div>
<div class="t" style="top:889px;font-size:15.1px;line-height:15.1px;color:#000;font-weight:bold;left:207.85px;width:64px;text-align:center;">2,18</div>
<div class="t" style="top:942px;font-size:15.1px;line-height:15.1px;color:#000;font-weight:bold;left:207.85px;width:64px;text-align:center;">1,16</div>
<div class="t" style="top:819px;font-size:15.1px;line-height:15.1px;color:#31859c;font-weight:bold;left:287.9px;width:64px;text-align:center;">31.05.</div>
<div class="t" style="top:854px;font-size:15.1px;line-height:15.1px;color:#000;font-weight:bold;left:287.9px;width:64px;text-align:center;">2,30</div>
<div class="t" style="top:889px;font-size:15.1px;line-height:15.1px;color:#000;font-weight:bold;left:287.9px;width:64px;text-align:center;">2,31</div>
<div class="t" style="top:942px;font-size:15.1px;line-height:15.1px;color:#000;font-weight:bold;left:287.9px;width:64px;text-align:center;">1,16</div>
<div class="t" style="top:819px;font-size:15.1px;line-height:15.1px;color:#31859c;font-weight:bold;left:362.4px;width:64px;text-align:center;">30.06.</div>
<div class="t" style="top:854px;font-size:15.1px;line-height:15.1px;color:#000;font-weight:bold;left:362.4px;width:64px;text-align:center;">2,28</div>
<div class="t" style="top:889px;font-size:15.1px;line-height:15.1px;color:#000;font-weight:bold;left:362.4px;width:64px;text-align:center;">2,29</div>
<div class="t" style="top:942px;font-size:15.1px;line-height:15.1px;color:#000;font-weight:bold;left:362.4px;width:64px;text-align:center;">1,11</div>
<div class="t" style="top:819px;font-size:15.1px;line-height:15.1px;color:#31859c;font-weight:bold;left:431.75px;width:64px;text-align:center;">31.07.</div>
<div class="t" style="top:854px;font-size:15.1px;line-height:15.1px;color:#000;font-weight:bold;left:431.75px;width:64px;text-align:center;">2,29</div>
<div class="t" style="top:889px;font-size:15.1px;line-height:15.1px;color:#000;font-weight:bold;left:431.75px;width:64px;text-align:center;">2,28</div>
<div class="t" style="top:942px;font-size:15.1px;line-height:15.1px;color:#000;font-weight:bold;left:431.75px;width:64px;text-align:center;">1,14</div>
<div class="t" style="top:819px;font-size:15.1px;line-height:15.1px;color:#31859c;font-weight:bold;left:496px;width:64px;text-align:center;">31.08.</div>
<div class="t" style="top:854px;font-size:15.1px;line-height:15.1px;color:#000;font-weight:bold;left:496px;width:64px;text-align:center;">2,30</div>
<div class="t" style="top:889px;font-size:15.1px;line-height:15.1px;color:#000;font-weight:bold;left:496px;width:64px;text-align:center;">2,30</div>
<div class="t" style="top:942px;font-size:15.1px;line-height:15.1px;color:#000;font-weight:bold;left:496px;width:64px;text-align:center;">1,14</div>
<div class="t" style="top:819px;font-size:15.1px;line-height:15.1px;color:#31859c;font-weight:bold;left:559.8px;width:64px;text-align:center;">30.09.</div>
<div class="t" style="top:854px;font-size:15.1px;line-height:15.1px;color:#000;font-weight:bold;left:559.8px;width:64px;text-align:center;">2,33</div>
<div class="t" style="top:889px;font-size:15.1px;line-height:15.1px;color:#000;font-weight:bold;left:559.8px;width:64px;text-align:center;">2,33</div>
<div class="t" style="top:942px;font-size:15.1px;line-height:15.1px;color:#000;font-weight:bold;left:559.8px;width:64px;text-align:center;">1,15</div>
<div class="t" style="top:819px;font-size:15.1px;line-height:15.1px;color:#31859c;font-weight:bold;left:628.95px;width:64px;text-align:center;">31.10</div>
<div class="t" style="top:854px;font-size:15.1px;line-height:15.1px;color:#000;font-weight:bold;left:628.95px;width:64px;text-align:center;">2,40</div>
<div class="t" style="top:889px;font-size:15.1px;line-height:15.1px;color:#000;font-weight:bold;left:628.95px;width:64px;text-align:center;">2,37</div>
<div class="t" style="top:942px;font-size:15.1px;line-height:15.1px;color:#000;font-weight:bold;left:628.95px;width:64px;text-align:center;">1,19</div>
<div class="t" style="top:819px;font-size:15.1px;line-height:15.1px;color:#31859c;font-weight:bold;left:703.6px;width:64px;text-align:center;">30.11.</div>
<div class="t" style="top:854px;font-size:15.1px;line-height:15.1px;color:#000;font-weight:bold;left:703.6px;width:64px;text-align:center;">2,36</div>
<div class="t" style="top:889px;font-size:15.1px;line-height:15.1px;color:#000;font-weight:bold;left:703.6px;width:64px;text-align:center;">2,30</div>
<div class="t" style="top:942px;font-size:15.1px;line-height:15.1px;color:#000;font-weight:bold;left:703.6px;width:64px;text-align:center;">1,20</div>
<div class="t" style="top:981px;font-size:15.02px;line-height:15.02px;color:#000;left:16.2px;">Barel nafte na dan 30.11.2018.godine 59,51 $, srednji kurs dolara iznosi 1,7176.</div>
</div>
</body>
</html>
